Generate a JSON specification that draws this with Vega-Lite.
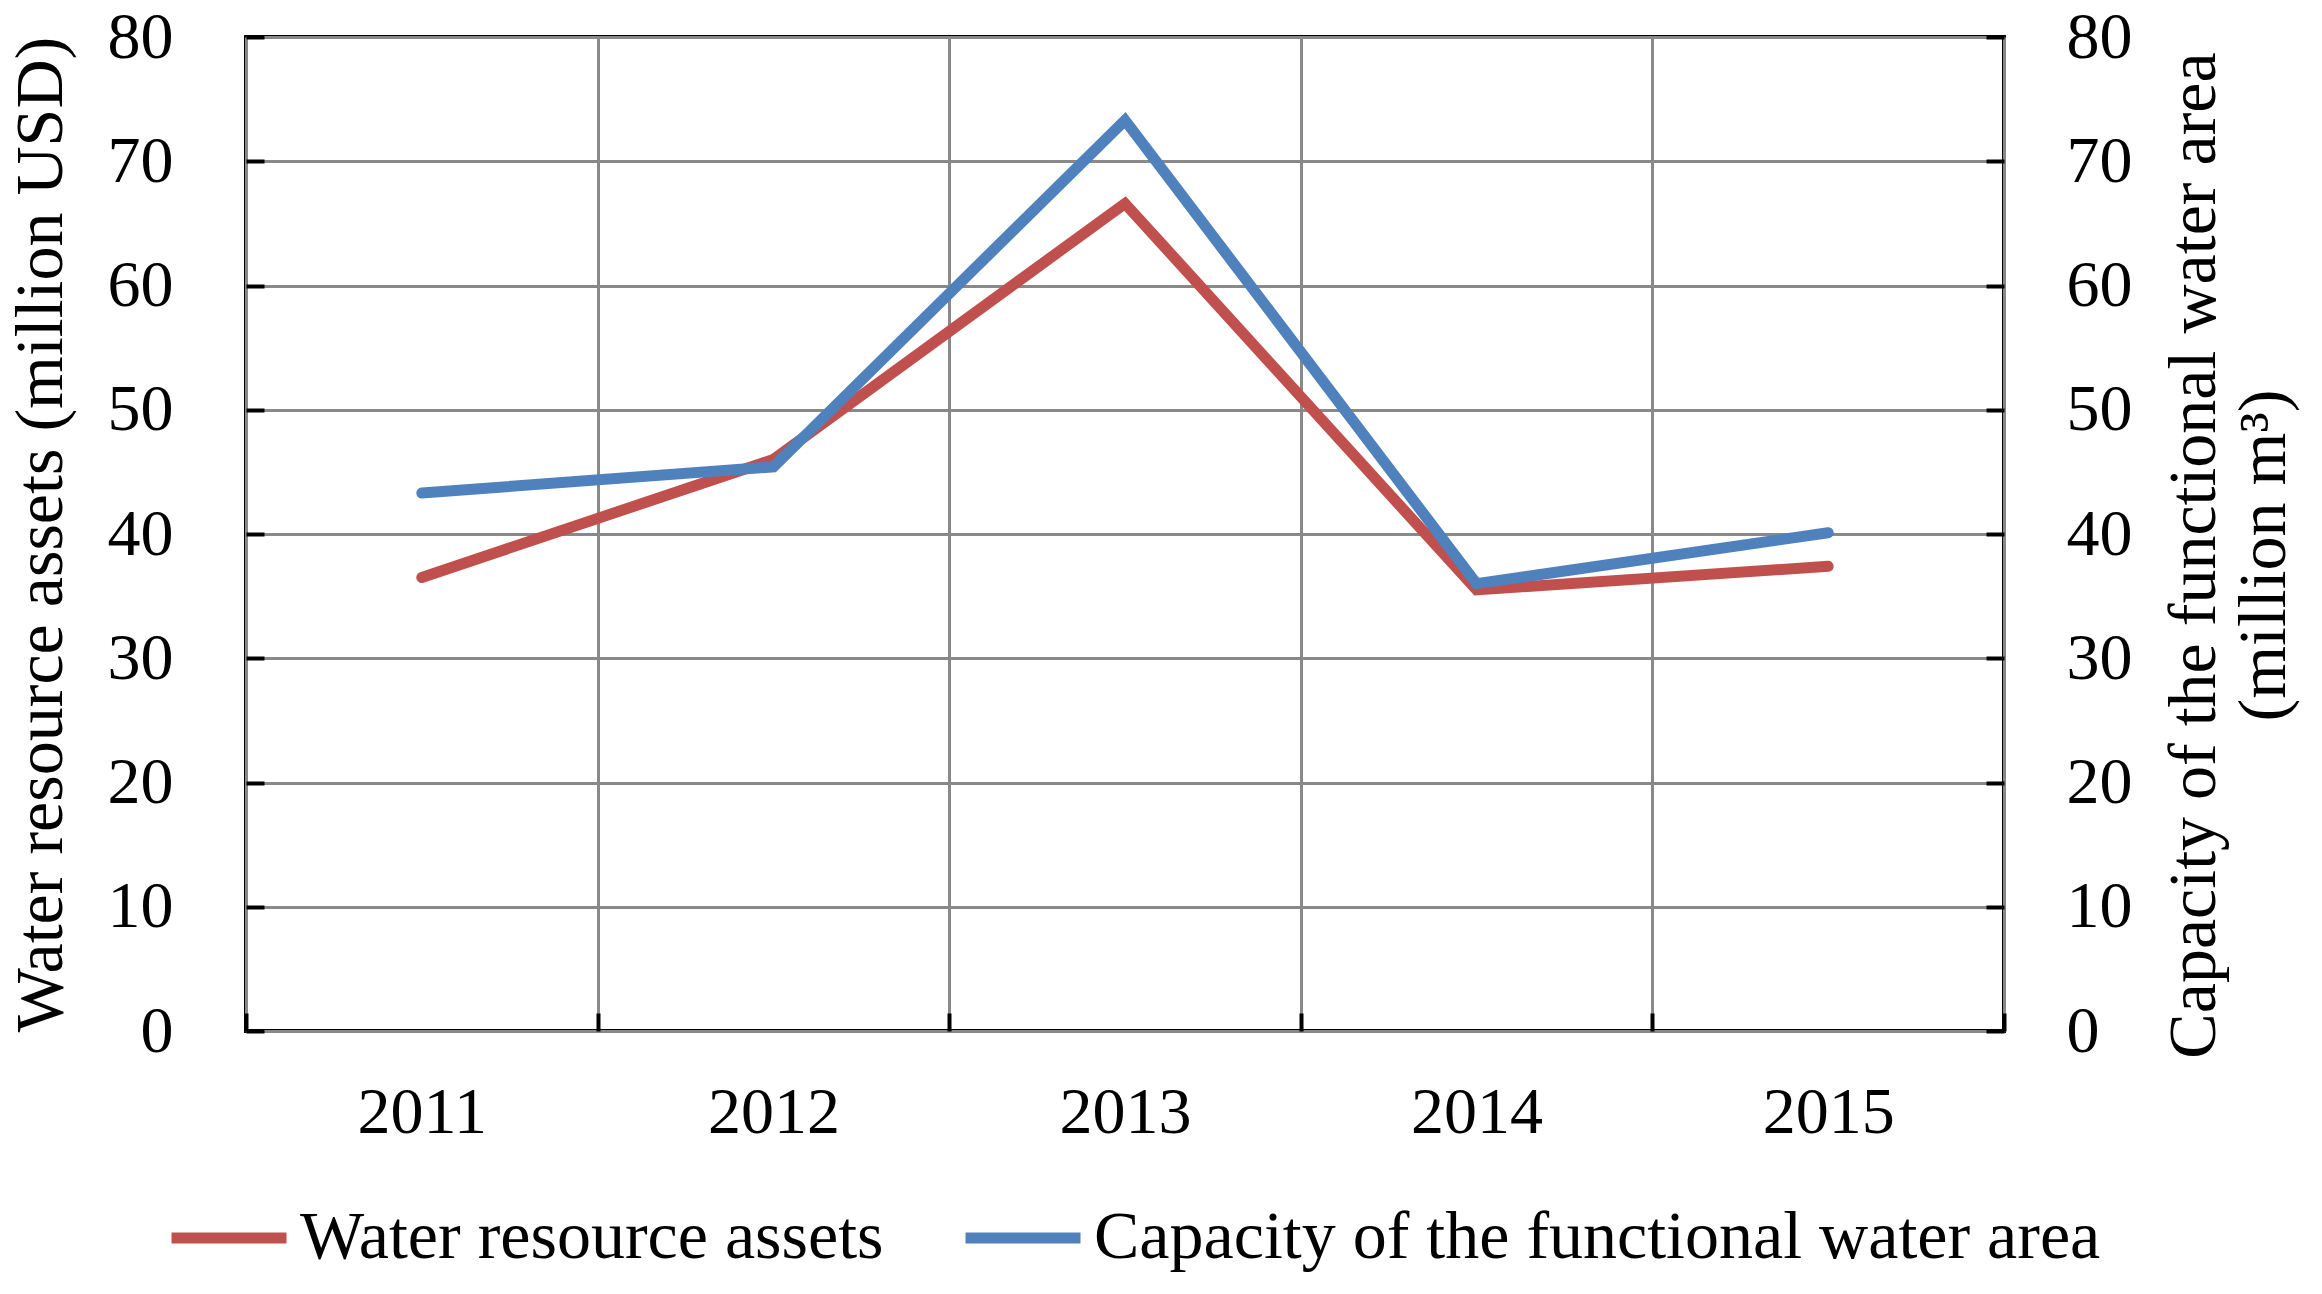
{
  "$schema": "https://vega.github.io/schema/vega-lite/v6.json",
  "autosize": {"type": "none"},
  "width": 1758,
  "height": 994,
  "padding": {"left": 246, "top": 37, "right": 318, "bottom": 263},
  "background": "white",
  "config": {
    "font": "Liberation Serif",
    "view": {"stroke": "black", "strokeWidth": 4}
  },
  "data": {
    "values": [
      {"year": "2011", "series": "Water resource assets", "value": 36.5},
      {"year": "2012", "series": "Water resource assets", "value": 46.0},
      {"year": "2013", "series": "Water resource assets", "value": 66.6},
      {"year": "2014", "series": "Water resource assets", "value": 35.5},
      {"year": "2015", "series": "Water resource assets", "value": 37.4},
      {"year": "2011", "series": "Capacity of the functional water area", "value": 43.3},
      {"year": "2012", "series": "Capacity of the functional water area", "value": 45.4},
      {"year": "2013", "series": "Capacity of the functional water area", "value": 73.3},
      {"year": "2014", "series": "Capacity of the functional water area", "value": 36.0},
      {"year": "2015", "series": "Capacity of the functional water area", "value": 40.1}
    ]
  },
  "encoding": {
    "x": {
      "field": "year",
      "type": "ordinal",
      "scale": {"type": "band", "paddingInner": 0, "paddingOuter": 0},
      "axis": {
        "title": null,
        "labelAngle": 0,
        "tickBand": "extent",
        "grid": true,
        "gridColor": "#898989",
        "gridWidth": 3,
        "domain": false,
        "tickSize": -18,
        "tickWidth": 4,
        "tickColor": "black",
        "labelPadding": 67,
        "labelFontSize": 66,
        "labelColor": "black"
      }
    },
    "color": {
      "field": "series",
      "type": "nominal",
      "scale": {
        "domain": ["Water resource assets", "Capacity of the functional water area"],
        "range": ["#C0504D", "#4F81BD"]
      },
      "legend": {
        "title": null,
        "orient": "none",
        "direction": "horizontal",
        "legendX": -80,
        "legendY": 1138,
        "symbolType": "stroke",
        "symbolSize": 13225,
        "symbolStrokeWidth": 11,
        "labelFontSize": 68,
        "labelColor": "black",
        "labelOffset": 8,
        "labelLimit": 2000,
        "columnPadding": 59
      }
    }
  },
  "layer": [
    {
      "transform": [{"filter": "datum.series == 'Water resource assets'"}],
      "mark": {"type": "line", "strokeWidth": 11, "strokeCap": "round"},
      "encoding": {
        "y": {
          "field": "value",
          "type": "quantitative",
          "scale": {"domain": [0, 80], "nice": false},
          "axis": {
            "orient": "left",
            "title": "Water resource assets (million USD)",
            "values": [0, 10, 20, 30, 40, 50, 60, 70, 80],
            "grid": true,
            "gridColor": "#898989",
            "gridWidth": 3,
            "domain": false,
            "tickSize": -18,
            "tickWidth": 4,
            "tickColor": "black",
            "labelPadding": 91,
            "labelFontSize": 66,
            "labelColor": "black",
            "titleX": -205,
            "titleY": 497,
            "titleAngle": 270,
            "titleAlign": "center",
            "titleBaseline": "middle",
            "titleFontSize": 68,
            "titleFontWeight": "normal",
            "titleColor": "black"
          }
        }
      }
    },
    {
      "transform": [{"filter": "datum.series == 'Capacity of the functional water area'"}],
      "mark": {"type": "line", "strokeWidth": 11, "strokeCap": "round"},
      "encoding": {
        "y": {
          "field": "value",
          "type": "quantitative",
          "scale": {"domain": [0, 80], "nice": false},
          "axis": {
            "orient": "right",
            "title": ["Capacity of the functional water area", "(million m³)"],
            "values": [0, 10, 20, 30, 40, 50, 60, 70, 80],
            "grid": false,
            "domain": false,
            "tickSize": -18,
            "tickWidth": 4,
            "tickColor": "black",
            "labelPadding": 80,
            "labelFontSize": 66,
            "labelColor": "black",
            "titleX": 190,
            "titleY": 518,
            "titleAngle": 270,
            "titleAlign": "center",
            "titleBaseline": "middle",
            "titleLineHeight": 70,
            "titleFontSize": 68,
            "titleFontWeight": "normal",
            "titleColor": "black"
          }
        }
      }
    }
  ],
  "resolve": {"scale": {"y": "independent"}}
}
